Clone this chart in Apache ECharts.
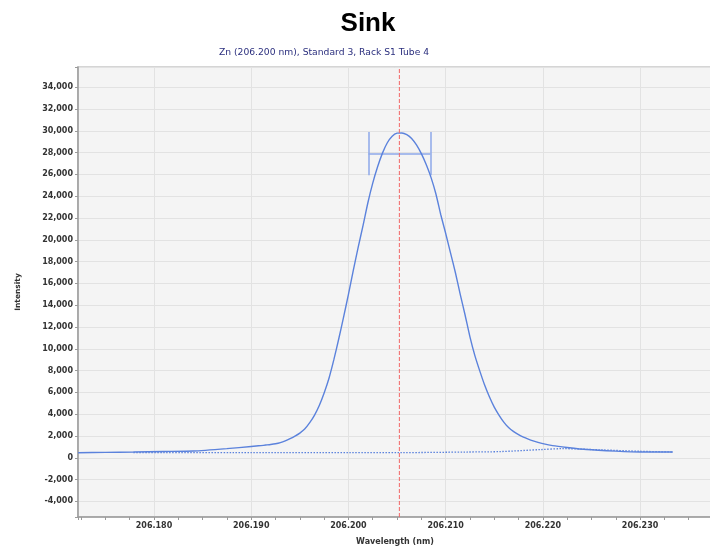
<!DOCTYPE html>
<html><head><meta charset="utf-8">
<script src="https://cdn.jsdelivr.net/npm/echarts@6/dist/echarts.min.js"></script>
<style>html,body{margin:0;padding:0;background:#fff;overflow:hidden}#chart{width:710px;height:547px}</style>
</head><body><div id="chart"></div>
<script>
const titleText = 'Sink';
const subtitleText = 'Zn (206.200 nm), Standard 3, Rack S1 Tube 4';
const xAxisName = 'Wavelength (nm)';
const yAxisName = 'Intensity';

// main scan (solid line)
const scanWavelength = [206.17219, 206.1750, 206.17788, 206.1810, 206.18405, 206.18749, 206.1900, 206.1905, 206.1910, 206.1915, 206.1920, 206.1925, 206.1930, 206.1935, 206.1940, 206.1945, 206.1950, 206.1955, 206.1960, 206.1965, 206.1970, 206.1975, 206.1980, 206.1985, 206.1990, 206.1995, 206.2000, 206.2005, 206.2010, 206.2015, 206.2020, 206.2025, 206.2030, 206.2035, 206.2040, 206.2045, 206.2050, 206.2055, 206.2060, 206.2065, 206.2070, 206.2075, 206.2080, 206.2085, 206.2090, 206.2095, 206.2100, 206.2105, 206.2110, 206.2115, 206.2120, 206.2125, 206.2130, 206.2135, 206.2140, 206.2145, 206.2150, 206.2155, 206.2160, 206.2165, 206.2170, 206.2175, 206.2180, 206.2185, 206.2190, 206.2195, 206.2200, 206.2210, 206.2225, 206.2245, 206.2275, 206.2300, 206.23337];
const scanIntensity = [460, 500, 530, 580, 620, 840, 1040, 1080, 1120, 1170, 1220, 1290, 1400, 1560, 1760, 1990, 2270, 2640, 3200, 3900, 4800, 5950, 7300, 9000, 10900, 12900, 15000, 17200, 19300, 21300, 23400, 25200, 26700, 27950, 28900, 29500, 29780, 29800, 29650, 29300, 28700, 27900, 26900, 25700, 24200, 22300, 20600, 18800, 17000, 15000, 13100, 11100, 9400, 8000, 6700, 5600, 4650, 3900, 3250, 2750, 2400, 2120, 1900, 1720, 1560, 1420, 1300, 1120, 950, 760, 610, 530, 530];

// baseline (dotted line)
const baseWavelength = [206.17788, 206.1900, 206.2000, 206.2054, 206.2122, 206.2156, 206.2197, 206.2221, 206.2259, 206.2300, 206.23337];
const baseIntensity = [477, 477, 477, 477, 530, 570, 750, 840, 730, 600, 530];

const peakMarker = 206.20524;
const errorBarX = [206.20206, 206.20844];
const errorBarY = 27910;
const errorBarRange = [25920, 29890];

const xRange = [206.17218, 206.2374];
const yRange = [-5430, 35850];
const xLabelStep = 0.01, xMinorStep = 0.0025, yLabelStep = 2000;

function isMultiple(v, step) { const r = v / step; return Math.abs(r - Math.round(r)) < 1e-6; }

const labelFont = { fontFamily: 'DejaVu Sans', fontSize: 8, fontWeight: 'bold', color: '#333' };

const chart = echarts.init(document.getElementById('chart'), null, { renderer: 'canvas' });
chart.setOption({
  animation: false,
  backgroundColor: '#ffffff',
  graphic: [
    { type: 'text', x: 368, y: 24, style: { text: titleText, fontFamily: 'Liberation Sans', fontSize: 26, fontWeight: 'bold', fill: '#000', align: 'center', verticalAlign: 'middle' } },
    { type: 'text', x: 324, y: 53, style: { text: subtitleText, fontFamily: 'DejaVu Sans', fontSize: 9.2, fill: '#2b2f7e', align: 'center', verticalAlign: 'middle' } }
  ],
  grid: { left: 78, right: -2, top: 67, bottom: 30, outerBoundsMode: 'none', containLabel: false, show: true, backgroundColor: '#f4f4f4', borderColor: '#c8c8c8', borderWidth: 1.5 },
  xAxis: [
    {
      type: 'value', min: xRange[0], max: xRange[1], minInterval: xLabelStep, maxInterval: xLabelStep, position: 'bottom',
      axisLine: { show: true, onZero: false, lineStyle: { color: '#9a9a9a', width: 1.5 } },
      axisTick: { show: true, length: 3, lineStyle: { color: '#9a9a9a' } },
      axisLabel: Object.assign({ margin: 5, formatter: v => isMultiple(v, xLabelStep) ? v.toFixed(3) : '' }, labelFont),
      splitLine: { show: true, lineStyle: { color: '#e2e2e2', width: 1 } },
      name: xAxisName, nameLocation: 'middle', nameGap: 21,
      nameTextStyle: { fontFamily: 'DejaVu Sans', fontSize: 8, fontWeight: 'bold', color: '#333' }
    },
    {
      type: 'value', min: xRange[0], max: xRange[1], minInterval: xMinorStep, maxInterval: xMinorStep, position: 'bottom',
      axisLine: { show: false, onZero: false },
      axisTick: { show: true, length: 3, lineStyle: { color: '#9a9a9a' } },
      axisLabel: { show: false },
      splitLine: { show: false }
    }
  ],
  yAxis: {
    type: 'value', min: yRange[0], max: yRange[1], minInterval: yLabelStep, maxInterval: yLabelStep,
    axisLine: { show: true, onZero: false, lineStyle: { color: '#9a9a9a', width: 1.5 } },
    axisTick: { show: true, length: 3, lineStyle: { color: '#9a9a9a' } },
    axisLabel: Object.assign({ margin: 5, formatter: v => isMultiple(v, yLabelStep) ? v.toLocaleString('en-US') : '' }, labelFont),
    splitLine: { show: true, lineStyle: { color: '#e2e2e2', width: 1 } },
    name: yAxisName, nameLocation: 'middle', nameGap: 56, nameRotate: 90,
    nameTextStyle: { fontFamily: 'DejaVu Sans', fontSize: 7.5, fontWeight: 'bold', color: '#333' }
  },
  series: [
    {
      type: 'line', name: 'scan', showSymbol: false, symbol: 'none', smooth: 0.2,
      data: scanWavelength.map((x, i) => [x, scanIntensity[i]]),
      lineStyle: { color: '#5b82dc', width: 1.4 },
      z: 3
    },
    {
      type: 'line', name: 'baseline', showSymbol: false, symbol: 'none', smooth: 0.3,
      data: baseWavelength.map((x, i) => [x, baseIntensity[i]]),
      lineStyle: { color: '#5b82dc', width: 1.3, type: [1.5, 1.5] },
      z: 2
    },
    {
      type: 'line', name: 'peak marker', showSymbol: false, symbol: 'none',
      data: [[peakMarker, yRange[0]], [peakMarker, yRange[1]]],
      lineStyle: { color: '#f26565', type: [4, 2], width: 1 },
      z: 4
    },
    {
      type: 'lines', coordinateSystem: 'cartesian2d', polyline: false, silent: true,
      lineStyle: { color: '#8ea8ea', width: 1.5, opacity: 1 },
      data: [
        { coords: [[errorBarX[0], errorBarY], [errorBarX[1], errorBarY]] },
        { coords: [[errorBarX[0], errorBarRange[0]], [errorBarX[0], errorBarRange[1]]] },
        { coords: [[errorBarX[1], errorBarRange[0]], [errorBarX[1], errorBarRange[1]]] }
      ],
      z: 2
    }
  ]
});
</script></body></html>
